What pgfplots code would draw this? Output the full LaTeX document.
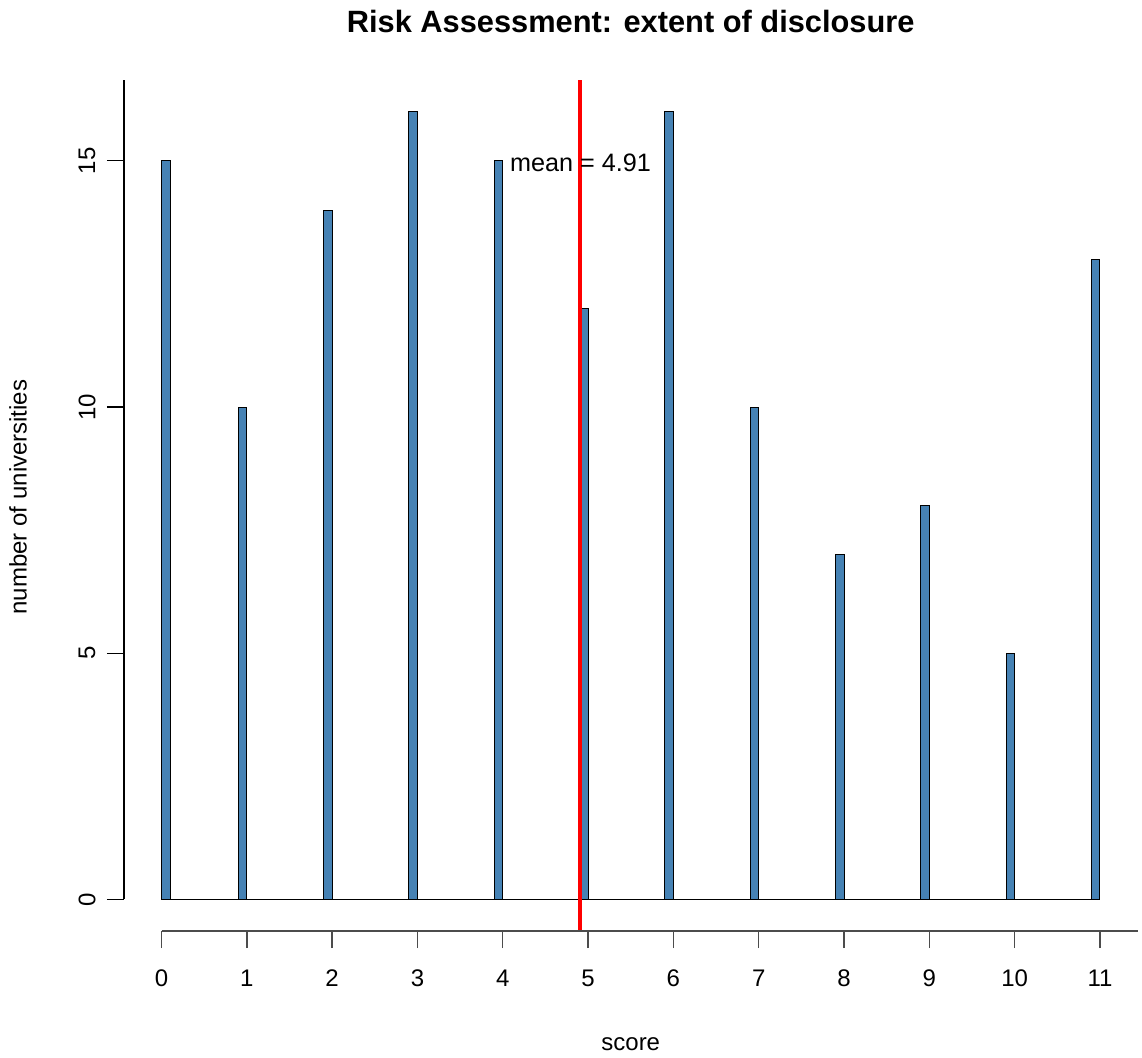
\documentclass[border=0pt]{standalone}
\usepackage{fontspec}
\setmainfont{Liberation Sans}
\usepackage{pgfplots}
\pgfplotsset{compat=1.18}

\definecolor{steelblue}{HTML}{4682B4}

\begin{document}
\begin{tikzpicture}
\begin{axis}[
  at={(0,0)}, anchor=south west,
  scale only axis,
  width=506.75pt, height=425.5pt,
  xmin=-0.44, xmax=11.44,
  ymin=-0.64, ymax=16.64,
  axis lines*=left,
  axis line style={draw=none},
  tick align=outside,
  major tick length=8.5pt,
  xtick={0,1,...,11},
  ytick={0,5,10,15},
  x tick style={black!70, line width=0.7pt},
  y tick style={black, line width=0.6pt},
  /pgf/number format/assume math mode=true,
  tick label style={font=\fontsize{12}{14}\selectfont},
  xticklabel style={anchor=center, yshift=-15pt},
  yticklabel style={rotate=90, anchor=center, yshift=10pt},
  xlabel={score},
  ylabel={number of universities},
  label style={font=\fontsize{12}{14}\selectfont},
  xlabel style={at={(axis description cs:0.5,0)}, anchor=center, yshift=-56.5pt},
  ylabel style={at={(axis description cs:0,0.51)}, anchor=center, yshift=53pt},
  title={\textbf{Risk Assessment: extent of disclosure}},
  title style={at={(axis description cs:0.5,1)}, anchor=center, yshift=23.5pt,
               font=\fontsize{15.4}{18}\selectfont},
  clip=false,
]
% histogram with 0.1-wide bins; empty bins sit on the baseline
\addplot[black, line width=0.5pt] coordinates {(0,0) (11,0)};
\addplot[ybar, bar width=0.1, fill=steelblue, draw=black, line width=0.5pt]
  coordinates {
    (0.05,15) (0.95,10) (1.95,14) (2.95,16) (3.95,15) (4.95,12)
    (5.95,16) (6.95,10) (7.95,7) (8.95,8) (9.95,5) (10.95,13)
  };
% mean of the scores
\addplot[red, line width=2pt] coordinates {(4.91,-0.64) (4.91,16.64)};
\node[anchor=west, font=\fontsize{12.6}{14}\selectfont, inner sep=0pt, xshift=3.5pt, yshift=-1pt]
  at (axis cs:4,15) {mean = 4.91};
% R-style axis lines
\draw[black!70, line width=0.8pt] (axis cs:0,-0.64) -- (axis cs:11.44,-0.64);
\draw[black, line width=0.6pt] (axis cs:-0.44,0) -- (axis cs:-0.44,16.64);
\end{axis}
\pgfresetboundingbox
\path (-62pt,-63pt) rectangle (509pt,465.5pt);
\end{tikzpicture}
\end{document}
